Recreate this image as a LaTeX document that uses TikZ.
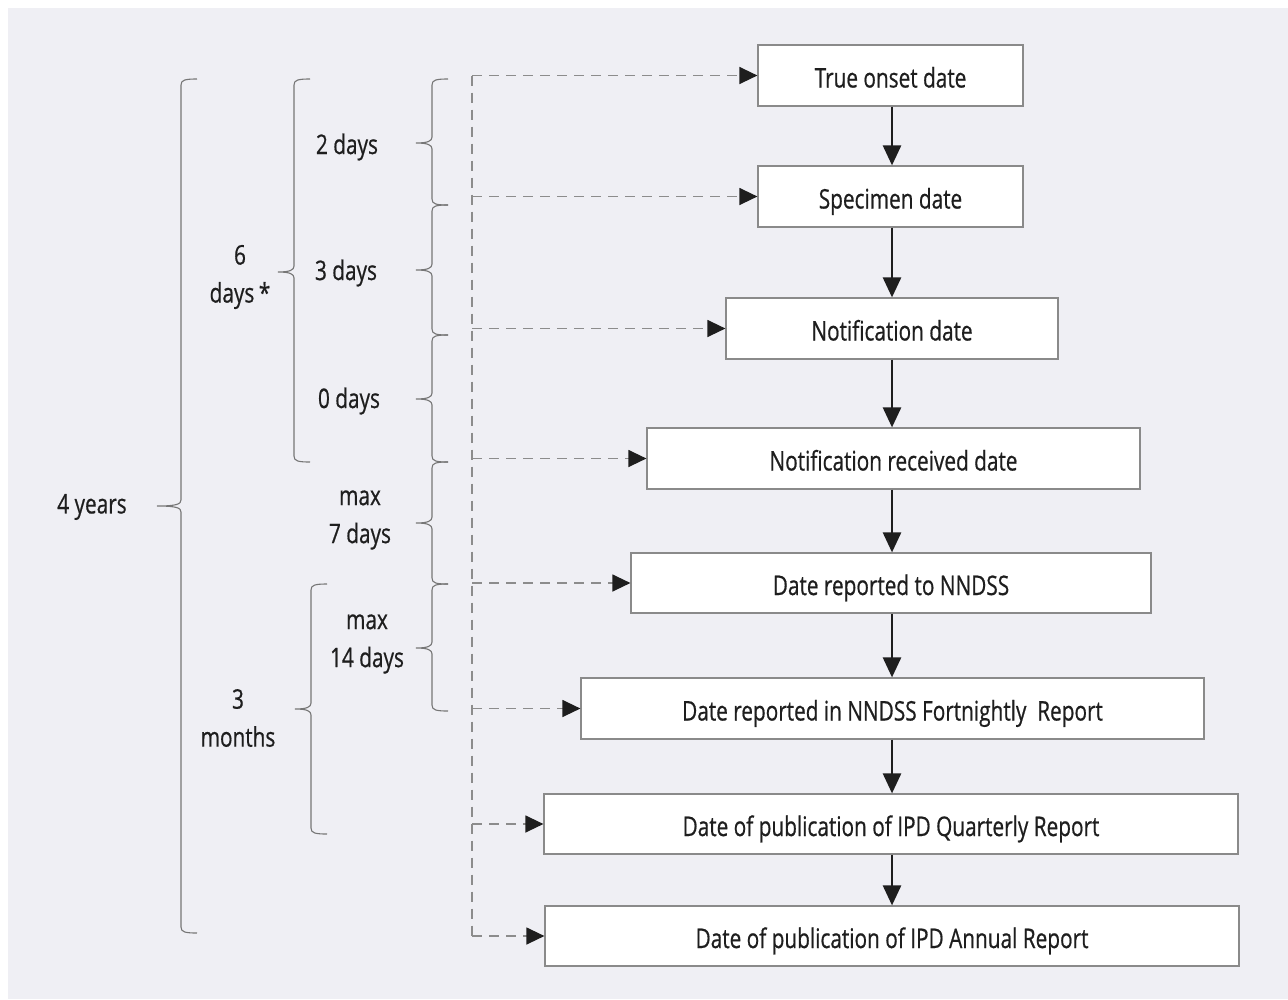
\documentclass[tikz,border=0pt]{standalone}
\usepackage{fontspec}
\setmainfont[FakeStretch=0.77,FakeBold=0.6]{Open Sans}
\usetikzlibrary{arrows.meta}
\definecolor{panel}{HTML}{EFEFF4}
\definecolor{boxline}{HTML}{8A8A8A}
\definecolor{braceline}{HTML}{767676}
\definecolor{dashline}{HTML}{8C8C8C}
\definecolor{ink}{HTML}{1E1E1E}
\newcommand\mybrc[5]{% x, top, mid, bot, tip length
  \draw[bracestyle] (#1+16,#2) .. controls (#1+4,#2) and (#1,#2+1) .. (#1,#2+6)
    -- (#1,#3-6) .. controls (#1,#3-2) and (#1-4,#3) .. (#1-#5,#3)
    (#1-#5,#3) .. controls (#1-4,#3) and (#1,#3+2) .. (#1,#3+6)
    -- (#1,#4-6) .. controls (#1,#4-1) and (#1+4,#4) .. (#1+16,#4);}
\begin{document}
\begin{tikzpicture}[x=1pt,y=-1pt,
  datebox/.style={draw=boxline,line width=1.2pt,fill=white,minimum height=61pt,inner sep=0pt,
    text height=24pt,text depth=0pt,
    font=\fontsize{27}{32}\selectfont,text=ink},
  lab/.style={font=\fontsize{27}{38}\selectfont,text=ink,align=center,inner sep=0pt},
  bracestyle/.style={draw=braceline,line width=1.1pt},
  solidarrow/.style={draw=ink,line width=2.6pt,-{Triangle[length=20pt,width=18pt]}},
  dline/.style={draw=dashline,line width=1.3pt,dash pattern=on 10pt off 7pt},
  darrow/.style={dline,-{Triangle[length=18pt,width=17pt,color=ink,fill=ink]}}]
\useasboundingbox (0,0) rectangle (1288,999);
\fill[white] (0,0) rectangle (1288,999);
\fill[panel] (8,8) rectangle (1288,999);

\node[datebox,minimum width=265pt] (b1) at (890.5,75.5) {True onset date};
\node[datebox,minimum width=265pt] (b2) at (890.5,196.5) {Specimen date};
\node[datebox,minimum width=332pt] (b3) at (892,328.5) {Notification date};
\node[datebox,minimum width=493pt] (b4) at (893.5,458.5) {Notification received date};
\node[datebox,minimum width=520pt,minimum height=60pt] (b5) at (891,583) {Date reported to NNDSS};
\node[datebox,minimum width=623pt] (b6) at (892.5,708.5) {Date reported in NNDSS Fortnightly\ \ Report};
\node[datebox,minimum width=694pt,minimum height=60pt] (b7) at (891,824) {Date of publication of IPD Quarterly Report};
\node[datebox,minimum width=694pt,minimum height=60pt] (b8) at (892,936) {Date of publication of IPD Annual Report};

\foreach \a/\b in {b1/b2,b2/b3,b3/b4,b4/b5,b5/b6,b6/b7,b7/b8}
  \draw[solidarrow] (\a.south -| 892,0) -- (\b.north -| 892,0);

\coordinate (v) at (472,0);
\draw[dline] (b1.west -| v) -- (b8.west -| v);
\foreach \b in {b1,b2,b3,b4,b5,b6,b7,b8}
  \draw[darrow] (\b.west -| v) -- (\b.west);

\mybrc{432}{79}{143}{205}{16}
\mybrc{432}{205}{270}{335}{16}
\mybrc{432}{335}{399}{462}{16}
\mybrc{432}{462}{523}{584}{16}
\mybrc{432}{584}{648}{711}{16}
\mybrc{294}{79}{272}{462}{16}
\mybrc{311}{584}{709}{834}{16}
\mybrc{181}{79}{506}{933}{24}

\node[lab] (l4y) at (92,507) {4 years};
\node[lab] (l6d) at (240,277) {6\\days\,*};
\node[lab] (l3m) at (238,718) {3\\months};
\node[lab] (l2d) at (347,147) {2 days};
\node[lab] (l3d) at (346,273) {3 days};
\node[lab] (l0d) at (349,401) {0 days};
\node[lab] (l7d) at (360,520) {max\\7 days};
\node[lab] (l14d) at (367,644) {max\\14 days};
\end{tikzpicture}
\end{document}
